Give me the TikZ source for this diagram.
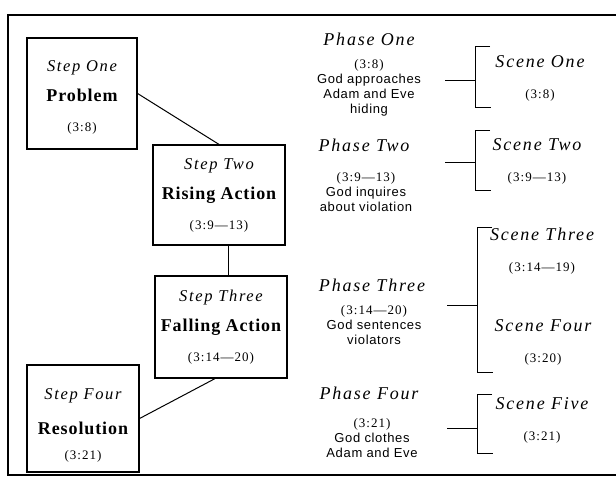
\documentclass[tikz,border=0pt]{standalone}
\usepackage{fontspec}
\setmainfont{Liberation Serif}
\newfontfamily\spacedserif[LetterSpace=10]{Liberation Serif}
\newfontfamily\boldserif[LetterSpace=5]{Liberation Serif}
\newfontfamily\refserif[LetterSpace=8]{Liberation Serif}
\newfontfamily\descsans[LetterSpace=5]{Liberation Sans}
\newcommand{\stepit}{\fontsize{16.5}{30}\selectfont\spacedserif\itshape}
\newcommand{\stepbf}{\fontsize{18}{30}\selectfont\boldserif\bfseries}
\newcommand{\stepref}{\fontsize{13}{30}\selectfont\refserif}
\newcommand{\phaseit}{\fontsize{18}{22}\selectfont\spacedserif\itshape}
\newcommand{\phaseref}{\fontsize{13}{15}\selectfont\refserif}
\newcommand{\desc}{\fontsize{13}{15}\selectfont\descsans}
\usetikzlibrary{calc}

\begin{document}
\begin{tikzpicture}[x=1pt,y=-1pt,
    stepbox/.style={draw, line width=1.2pt, align=center, inner sep=0pt,
        font=\fontsize{13}{30}\selectfont},
    label/.style={align=center, inner sep=0pt, font=\fontsize{13}{15}\selectfont},
    scene/.style={align=center, inner sep=0pt, font=\fontsize{13}{31}\selectfont},
    link/.style={line width=1pt}]
    \useasboundingbox (0,0) rectangle (616,485);
    \draw[line width=1.2pt] (616,15) -- (8,15) -- (8,475) -- (616,475);

    % steps
    \node[stepbox, minimum width=110, minimum height=111] (one) at (82,93.5)
        {\rule{0pt}{19.5pt}\stepit Step One\\\stepbf Problem\\\stepref (3:8)};
    \node[stepbox, minimum width=132, minimum height=100] (two) at (219,195)
        {\stepit Step Two\\\stepbf Rising Action\\\stepref (3:9—13)};
    \node[stepbox, minimum width=132, minimum height=102] (three) at (221,327)
        {\stepit Step Three\\\stepbf Falling Action\\\stepref (3:14—20)};
    \node[stepbox, minimum width=112, minimum height=107] (four) at (83,418.5)
        {\rule{0pt}{25.5pt}\stepit Step Four\\[5pt]\stepbf Resolution\\[-5pt]\stepref (3:21)};

    \draw[link] (one.east) -- (two.north);
    \draw[link] ([xshift=9]two.south) -- ([xshift=7]three.north);
    \draw[link] ([xshift=-6]three.south) -- (four.east);

    % phases
    \node[label] (phaseone) at (369,39) {\phaseit Phase One};
    \node[label] (phaseonetxt) at (369,88)
        {\phaseref (3:8)\\\desc God approaches\\\desc Adam and Eve\\\desc hiding};
    \node[label] (phasetwo) at (364,145) {\phaseit Phase Two};
    \node[label] (phasetwotxt) at (366,192)
        {\phaseref (3:9—13)\\\desc God inquires\\\desc about violation};
    \node[label] (phasethree) at (372,285) {\phaseit Phase Three};
    \node[label] (phasethreetxt) at (374,325)
        {\phaseref (3:14—20)\\\desc God sentences\\\desc violators};
    \node[label] (phasefour) at (369,393) {\phaseit Phase Four};
    \node[label] (phasefourtxt) at (372,438)
        {\phaseref (3:21)\\\desc God clothes\\\desc Adam and Eve};

    % scenes
    \node[scene] (sceneone) at (540,78) {\phaseit Scene One\\\phaseref (3:8)};
    \node[scene] (scenetwo) at (537,161) {\phaseit Scene Two\\\phaseref (3:9—13)};
    \node[scene] (scenethree) at (542,251.5) {\phaseit Scene Three\\\phaseref (3:14—19)};
    \node[scene] (scenefour) at (543,342) {\phaseit Scene Four\\\phaseref (3:20)};
    \node[scene] (scenefive) at (542,420.5) {\phaseit Scene Five\\\phaseref (3:21)};

    \foreach \x/\t/\b/\m in {475/46/107/80, 475/130/190/162, 477/227/372/305, 477/394/453/428}
    {
        \draw[link] (\x+15,\t) -- (\x,\t) -- (\x,\b) -- (\x+16,\b);
        \draw[link] (\x-30,\m) -- (\x,\m);
    }
\end{tikzpicture}
\end{document}
